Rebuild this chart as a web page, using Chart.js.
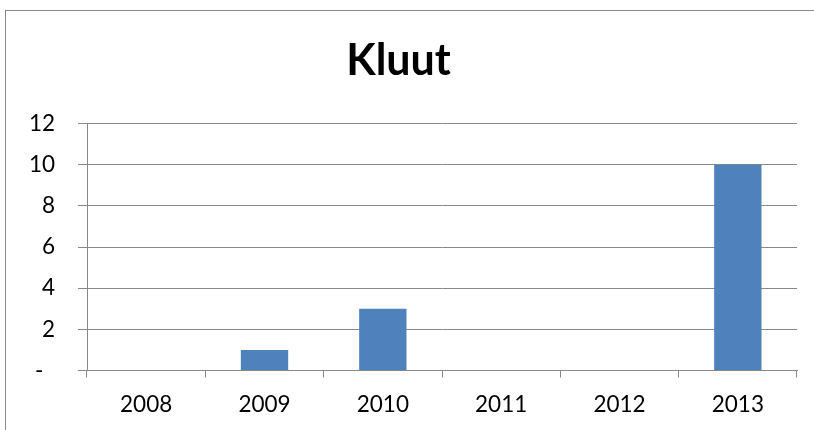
<!DOCTYPE html>
<html>
<head>
<meta charset="utf-8">
<script src="https://cdn.jsdelivr.net/npm/chart.js@4"></script>
<style>
  html, body { margin: 0; padding: 0; width: 814px; height: 430px; overflow: hidden; background: #fff; }
  #frame { position: absolute; left: 5px; top: 10px; width: 900px; height: 600px; border: 1px solid #8a8a8a; box-sizing: border-box; }
  #wrap { position: absolute; left: 0; top: 0; width: 814px; height: 430px; }
</style>
</head>
<body>
<div id="frame"></div>
<div id="wrap"><canvas id="c" width="814" height="430"></canvas></div>
<script>
const categories = ['2008', '2009', '2010', '2011', '2012', '2013'];
const kluutValues = [0, 1, 3, 0, 0, 10];
const chartTitle = 'Kluut';
const yMin = 0, yMax = 12, yStep = 2;

const gridColor = '#888888';
const font = 'Lato, "Open Sans", sans-serif';

new Chart(document.getElementById('c'), {
  type: 'bar',
  data: {
    labels: categories,
    datasets: [{
      data: kluutValues,
      backgroundColor: '#4F81BD',
      borderWidth: 0,
      barPercentage: 0.4,
      categoryPercentage: 1.0
    }]
  },
  options: {
    responsive: false,
    animation: false,
    devicePixelRatio: 1,
    layout: { padding: { left: 0, right: 17, top: 0, bottom: 0 } },
    plugins: {
      legend: { display: false },
      tooltip: { enabled: false },
      title: {
        display: true,
        text: chartTitle,
        color: '#000',
        font: { family: font, size: 43, weight: 'bold', lineHeight: 1.2 },
        padding: { top: 35, bottom: 37 }
      }
    },
    scales: {
      x: {
        afterFit: (s) => { s.height = 59.5; },
        grid: { drawOnChartArea: false, drawTicks: true, tickLength: 7, offset: true, color: gridColor, lineWidth: 1 },
        border: { display: true, color: gridColor, width: 1 },
        ticks: { color: '#000', font: { family: font, size: 22.5, lineHeight: 1.2 }, padding: 14, maxRotation: 0 }
      },
      y: {
        min: yMin,
        max: yMax,
        afterFit: (s) => { s.width = 87; },
        grid: { drawOnChartArea: true, drawTicks: true, tickLength: 9, color: gridColor, lineWidth: 1 },
        border: { display: true, color: gridColor, width: 1 },
        ticks: {
          stepSize: yStep,
          color: '#000',
          padding: 23,
          font: { family: font, size: 22.5, lineHeight: 1.2 },
          callback: (v) => (v === 0 ? '-  ' : String(v))
        }
      }
    }
  }
});
</script>
</body>
</html>
